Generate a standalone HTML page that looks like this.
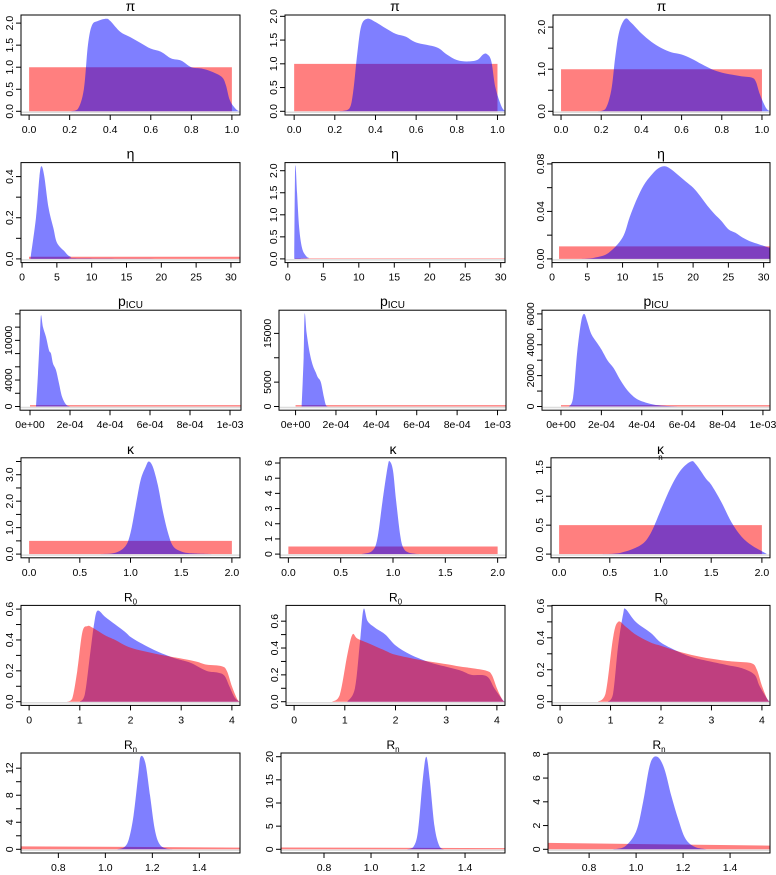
<!DOCTYPE html>
<html><head><meta charset="utf-8">
<style>
html,body{margin:0;padding:0;background:#fff;}
svg{display:block;font-family:"Liberation Sans",sans-serif;}
</style></head>
<body>
<svg id="chart" width="776" height="875" viewBox="0 0 776 875" xmlns="http://www.w3.org/2000/svg"></svg>
<script>
// ---- data: [x, density] pairs ----
const piBlue1=[[0.2,0],[0.24,0.05],[0.27,0.5],[0.29,1.5],[0.31,1.95],[0.34,2.05],[0.38,2.1],[0.40,2.05],[0.45,1.8],[0.5,1.68],[0.55,1.55],[0.6,1.42],[0.65,1.35],[0.7,1.2],[0.75,1.15],[0.8,1.0],[0.85,0.97],[0.9,0.9],[0.95,0.78],[0.97,0.6],[0.99,0.25],[1.02,0.05],[1.04,0]];
const piBlue2=[[0.22,0],[0.27,0.05],[0.29,0.4],[0.31,1.2],[0.33,1.8],[0.36,1.95],[0.4,1.88],[0.45,1.75],[0.5,1.63],[0.55,1.57],[0.6,1.45],[0.7,1.35],[0.75,1.2],[0.8,1.08],[0.85,1.05],[0.9,1.08],[0.93,1.2],[0.95,1.2],[0.97,1.05],[0.99,0.5],[1.02,0.1],[1.04,0]];
const piBlue3=[[0.18,0],[0.22,0.05],[0.25,0.5],[0.27,1.3],[0.29,1.9],[0.32,2.2],[0.35,2.1],[0.4,1.85],[0.45,1.65],[0.5,1.5],[0.55,1.4],[0.6,1.35],[0.65,1.25],[0.7,1.12],[0.75,1.0],[0.8,0.92],[0.85,0.87],[0.9,0.83],[0.95,0.8],[0.97,0.7],[0.99,0.4],[1.02,0.08],[1.04,0]];
const piRed=[[0,1],[1,1]];
const etaBlue1=[[1.2,0],[2,0.2],[2.5,0.4],[2.8,0.45],[3.2,0.4],[3.8,0.25],[4.5,0.15],[5,0.08],[6,0.04],[7,0.01],[9,0.002],[31,0]];
const etaBlue2=[[0.9,0],[1.0,1.8],[1.1,2.1],[1.3,1.5],[1.6,0.7],[2,0.25],[2.5,0.08],[3,0.02],[4,0],[31,0]];
const etaBlue3=[[4,0],[6,0.001],[8,0.005],[10,0.018],[11,0.035],[12,0.05],[13,0.062],[14,0.07],[15,0.076],[16,0.078],[17,0.075],[18,0.07],[19,0.065],[20,0.06],[21,0.053],[22,0.045],[23,0.038],[24,0.032],[25,0.025],[26,0.022],[27,0.018],[28,0.015],[29,0.013],[30,0.011],[31,0.009]];
const etaRed=[[1,0.0105],[31.5,0.0105]];
const picuBlue1=[[0.3,0],[0.4,5000],[0.5,11000],[0.55,13800],[0.65,12000],[0.8,10500],[0.95,8500],[1.05,8000],[1.15,6500],[1.3,5500],[1.45,3500],[1.6,1500],[1.8,300],[2.0,0]];
const picuBlue2=[[0.3,0],[0.4,10000],[0.45,19000],[0.55,15000],[0.7,11000],[0.85,8500],[1.0,7000],[1.1,6000],[1.25,5000],[1.4,2000],[1.5,300],[1.6,0]];
const picuBlue3=[[0.4,0],[0.6,600],[0.8,3500],[1.0,5500],[1.15,6000],[1.3,5500],[1.5,4700],[1.8,4100],[2.0,3700],[2.3,3000],[2.6,2500],[2.9,1800],[3.2,1200],[3.5,750],[3.8,450],[4.2,250],[4.6,120],[5.0,60],[5.5,20],[6,0]];
const picuRed1=[[0,200],[10.6,200]];
const picuRed2=[[0,280],[10.6,280]];
const picuRed3=[[0,90],[10.6,90]];
const kapBlue1=[[0.7,0],[0.85,0.05],[0.95,0.3],[1.0,0.8],[1.05,1.8],[1.1,2.8],[1.15,3.3],[1.18,3.5],[1.22,3.3],[1.27,2.6],[1.32,1.6],[1.37,0.8],[1.42,0.3],[1.5,0.1],[1.6,0.03],[1.8,0]];
const kapBlue2=[[0.7,0],[0.8,0.2],[0.85,1.0],[0.9,3.5],[0.95,5.8],[0.97,6.1],[1.0,5.5],[1.03,3.5],[1.07,1.2],[1.1,0.4],[1.15,0.1],[1.25,0]];
const kapBlue3=[[0.4,0],[0.6,0.02],[0.8,0.15],[0.9,0.35],[1.0,0.75],[1.1,1.15],[1.2,1.45],[1.3,1.6],[1.35,1.55],[1.45,1.3],[1.5,1.2],[1.6,0.9],[1.7,0.55],[1.8,0.3],[1.9,0.15],[2.0,0.05],[2.05,0]];
const kapRed=[[0,0.5],[2,0.5]];
const r0Blue1=[[1.0,0],[1.1,0.05],[1.2,0.3],[1.28,0.5],[1.35,0.59],[1.5,0.55],[1.7,0.5],[1.9,0.45],[2.0,0.42],[2.2,0.38],[2.5,0.33],[2.8,0.29],[3.0,0.27],[3.2,0.25],[3.5,0.2],[3.7,0.19],[3.85,0.17],[3.95,0.1],[4.05,0.03],[4.15,0]];
const r0Red1=[[0.75,0],[0.85,0.02],[0.95,0.2],[1.05,0.45],[1.15,0.49],[1.25,0.48],[1.5,0.43],[1.7,0.4],[2.0,0.35],[2.5,0.31],[3.0,0.28],[3.3,0.26],[3.5,0.24],[3.8,0.23],[3.9,0.2],[4.0,0.1],[4.1,0.02],[4.15,0]];
const r0Blue2=[[1.05,0],[1.2,0.1],[1.3,0.45],[1.37,0.69],[1.45,0.6],[1.6,0.55],[1.8,0.5],[2.0,0.42],[2.3,0.35],[2.7,0.29],[3.0,0.26],[3.3,0.23],[3.5,0.2],[3.8,0.19],[3.95,0.1],[4.1,0.02],[4.15,0]];
const r0Red2=[[0.75,0],[0.9,0.05],[1.05,0.35],[1.15,0.5],[1.25,0.47],[1.5,0.43],[1.8,0.38],[2.0,0.35],[2.5,0.31],[3.0,0.28],[3.3,0.26],[3.5,0.25],[3.8,0.23],[3.9,0.2],[4.0,0.1],[4.1,0.02],[4.15,0]];
const r0Blue3=[[0.95,0],[1.05,0.05],[1.15,0.35],[1.25,0.55],[1.3,0.58],[1.5,0.5],[1.8,0.43],[2.0,0.37],[2.3,0.32],[2.6,0.28],[3.0,0.25],[3.3,0.23],[3.6,0.21],[3.85,0.17],[3.95,0.1],[4.1,0.02],[4.15,0]];
const r0Red3=[[0.75,0],[0.9,0.05],[1.05,0.4],[1.15,0.5],[1.3,0.47],[1.5,0.42],[1.8,0.37],[2.0,0.35],[2.4,0.31],[2.8,0.28],[3.2,0.26],[3.5,0.25],[3.8,0.24],[3.9,0.2],[4.0,0.1],[4.1,0.02],[4.15,0]];
const rnBlue1=[[1.05,0],[1.08,0.3],[1.1,1.5],[1.12,5],[1.14,11],[1.15,13.7],[1.17,12.8],[1.19,8],[1.21,3],[1.23,0.8],[1.26,0.1],[1.3,0]];
const rnBlue2=[[1.15,0],[1.18,0.5],[1.2,4],[1.22,15],[1.235,20],[1.25,15],[1.27,5],[1.29,0.8],[1.31,0]];
const rnBlue3=[[0.9,0],[0.95,0.2],[1.0,1.5],[1.03,4],[1.06,7.2],[1.09,7.8],[1.12,6.8],[1.15,4.5],[1.18,2.5],[1.21,0.9],[1.25,0.2],[1.3,0]];
const rnRed1=[[0.6,0.45],[1.6,0.25]];
const rnRed2=[[0.6,0.4],[1.6,0.25]];
const rnRed3=[[0.6,0.55],[1.6,0.3]];
// axis ticks / labels
const piXTicks=[0,0.2,0.4,0.6,0.8,1.0];
const piXLabels=["0.0","0.2","0.4","0.6","0.8","1.0"];
const etaXTicks=[0,5,10,15,20,25,30];
const picuXTicks=[0,2,4,6,8,10];
const picuXLabels=["0e+00","2e-04","4e-04","6e-04","8e-04","1e-03"];
const kapXTicks=[0,0.5,1,1.5,2];
const kapXLabels=["0.0","0.5","1.0","1.5","2.0"];
const r0XTicks=[0,1,2,3,4];
const rnXTicks=[0.8,1.0,1.2,1.4];
const rnXLabels=["0.8","1.0","1.2","1.4"];

// ---- layout (pixels) ----
const panelL=[[21,285,553],[21,285,552],[20,279,542],[21,280,551],[21,286,552],[21,281,548]];
const panelR=[[240,505,770],[240,505,770],[241,506,770],[240,506,770],[240,505,770],[240,505,770]];
function rowTop(r){return 15+147.6*r;}
const H=100;
const NS="http://www.w3.org/2000/svg";
const svg=document.getElementById('chart');
function el(tag,attrs,parent){const e=document.createElementNS(NS,tag);for(const k in attrs)e.setAttribute(k,attrs[k]);(parent||svg).appendChild(e);return e;}

const BLUE="rgba(0,0,255,0.5)",RED="rgba(255,0,0,0.5)";
const panels=[
 {t:"π",xl:[[-0.04,1.04],[-0.045,1.037],[-0.04,1.04]],yMax:[2.1,1.95,2.2],series:[[["r",piRed],["b",piBlue1]],[["r",piRed],["b",piBlue2]],[["r",piRed],["b",piBlue3]]],xt:piXTicks,xlab:piXLabels,
  yt:[[0,0.5,1,1.5,2],[0,0.5,1,1.5,2],[0,0.5,1,1.5,2]],ylab:[["0.0","0.5","1.0","1.5","2.0"],["0.0","0.5","1.0","1.5","2.0"],["0.0","","1.0","","2.0"]]},
 {t:"η",xl:[[-0.15,31.3],[-0.4,30.6],[0,30.9]],yMax:[0.45,2.1,0.078],series:[[["r",etaRed],["b",etaBlue1]],[["r",etaRed],["b",etaBlue2]],[["r",etaRed],["b",etaBlue3]]],xt:etaXTicks,xlab:etaXTicks.map(String),
  yt:[[0,0.1,0.2,0.3,0.4],[0,0.5,1,1.5,2],[0,0.02,0.04,0.06,0.08]],ylab:[["0.0","","0.2","","0.4"],["0.0","0.5","1.0","1.5","2.0"],["0.00","","0.04","","0.08"]]},
 {t:"picu",xl:[[-0.5,10.55],[-0.82,10.42],[-0.94,10.35]],yMax:[14000,19000,6000],series:[[["r",picuRed1],["b",picuBlue1]],[["r",picuRed2],["b",picuBlue2]],[["r",picuRed3],["b",picuBlue3]]],xt:picuXTicks,xlab:picuXLabels,
  yt:[[0,2000,4000,6000,8000,10000,12000,14000],[0,5000,10000,15000],[0,1000,2000,3000,4000,5000,6000]],ylab:[["0","","4000","","","10000","",""],["0","5000","","15000"],["0","","2000","","4000","","6000"]]},
 {t:"κ",xl:[[-0.08,2.08],[-0.08,2.08],[-0.08,2.08]],yMax:[3.5,6.1,1.6],series:[[["r",kapRed],["b",kapBlue1]],[["r",kapRed],["b",kapBlue2]],[["r",kapRed],["b",kapBlue3]]],xt:kapXTicks,xlab:kapXLabels,
  yt:[[0,0.5,1,1.5,2,2.5,3,3.5],[0,1,2,3,4,5,6],[0,0.5,1,1.5]],ylab:[["0.0","","1.0","","2.0","","3.0",""],["0","1","2","3","4","5","6"],["0.0","0.5","1.0","1.5"]]},
 {t:"R0",xl:[[-0.16,4.16],[-0.16,4.16],[-0.16,4.16]],yMax:[0.6,0.69,0.58],series:[[["b",r0Blue1],["r",r0Red1]],[["b",r0Blue2],["r",r0Red2]],[["b",r0Blue3],["r",r0Red3]]],xt:r0XTicks,xlab:r0XTicks.map(String),
  yt:[[0,0.1,0.2,0.3,0.4,0.5,0.6],[0,0.1,0.2,0.3,0.4,0.5,0.6],[0,0.1,0.2,0.3,0.4,0.5,0.6]],ylab:[["0.0","","0.2","","0.4","","0.6"],["0.0","","0.2","","0.4","","0.6"],["0.0","","0.2","","0.4","","0.6"]]},
 {t:"Rn",xl:[[0.641,1.573],[0.617,1.57],[0.625,1.57]],yMax:[13.7,20,7.8],series:[[["r",rnRed1],["b",rnBlue1]],[["r",rnRed2],["b",rnBlue2]],[["r",rnRed3],["b",rnBlue3]]],xt:rnXTicks,xlab:rnXLabels,
  yt:[[0,2,4,6,8,10,12],[0,5,10,15,20],[0,2,4,6,8]],ylab:[["0","","4","","8","","12"],["0","5","10","15","20"],["0","2","4","6","8"]]}
];
const panelNames=["pi","eta","p-icu","kappa","r0","rn"];

// smooth path through points (Catmull-Rom to bezier), clamped to baseline
function smoothPath(P,base){
 let d='M'+P[0][0].toFixed(2)+','+base+'L'+P[0][0].toFixed(2)+','+P[0][1].toFixed(2);
 for(let i=0;i<P.length-1;i++){
  const p0=P[Math.max(0,i-1)],p1=P[i],p2=P[i+1],p3=P[Math.min(P.length-1,i+2)];
  const c1x=p1[0]+(p2[0]-p0[0])/6,c1y=Math.min(base,p1[1]+(p2[1]-p0[1])/6);
  const c2x=p2[0]-(p3[0]-p1[0])/6,c2y=Math.min(base,p2[1]-(p3[1]-p1[1])/6);
  d+='C'+c1x.toFixed(2)+','+c1y.toFixed(2)+' '+c2x.toFixed(2)+','+c2y.toFixed(2)+' '+p2[0].toFixed(2)+','+p2[1].toFixed(2);
 }
 d+='L'+P[P.length-1][0].toFixed(2)+','+base+'Z';
 return d;
}

panels.forEach((p,r)=>{
 for(let c=0;c<3;c++){
  const L=panelL[r][c],R=panelR[r][c],T=rowTop(r),B=T+H;
  const x0=p.xl[c][0],x1=p.xl[c][1],ym=p.yMax[c];
  const sx=v=>L+(v-x0)/(x1-x0)*(R-L);
  const sy=v=>(B-3.7)-v/ym*(H-7.4);
  const g=el('g',{});
  
  
  const cp='clip'+r+c;
  const cl=el('clipPath',{id:cp},g);el('rect',{x:L,y:T,width:R-L,height:H},cl);
  const dg=el('g',{'clip-path':'url(#'+cp+')'},g);
  p.series[c].forEach(([kind,pts])=>{
   let d;
   if(kind==='r'&&pts.length===2){
    d='M'+sx(pts[0][0])+','+sy(0)+'L'+sx(pts[0][0])+','+sy(pts[0][1])+'L'+sx(pts[1][0])+','+sy(pts[1][1])+'L'+sx(pts[1][0])+','+sy(0)+'Z';
   }else{
    d=smoothPath(pts.map(q=>[sx(q[0]),sy(q[1])]),sy(0));
   }
   const path=el('path',{d:d,fill:kind==='b'?BLUE:RED},dg);
   
   
  });
  el('line',{x1:L,x2:R,y1:sy(0)+1,y2:sy(0)+1,stroke:'#ddd','stroke-width':1.5},dg);
  const box=el('rect',{x:L,y:T,width:R-L,height:H,fill:'none',stroke:'#000','stroke-width':1},g);
  
  
  p.xt.forEach((v,i)=>{
   const X=sx(v);
   el('line',{x1:X,x2:X,y1:B,y2:B+5,stroke:'#000','stroke-width':1},g);
   const t=el('text',{x:X,y:B+18,'font-size':'10.5','text-anchor':'middle',fill:'#000'},g);
   t.textContent=p.xlab[i];
   
   
  });
  p.yt[c].forEach((v,i)=>{
   const Y=sy(v);
   el('line',{x1:L-5,x2:L,y1:Y,y2:Y,stroke:'#000','stroke-width':1},g);
   if(p.ylab[c][i]){
    const t=el('text',{x:L-8,y:Y,'font-size':'10.5','text-anchor':'middle',fill:'#000',transform:'rotate(-90 '+(L-8)+' '+Y+')'},g);
    t.textContent=p.ylab[c][i];
    
    
   }
  });
  const cx=(L+R)/2;
  const tt=el('text',{x:cx,y:T-4,'font-size':'14','text-anchor':'middle',fill:'#000','font-family':'"Liberation Sans",sans-serif'},g);
  
  
  if(p.t==='picu'){
   tt.textContent='p';
   const s=el('tspan',{'font-size':'10',dy:'2'},tt);s.textContent='ICU';
  }else if(p.t==='R0'||p.t==='Rn'){
   tt.setAttribute('font-size','12');
   tt.textContent='R';
   const s=el('tspan',{'font-size':'8',dy:'3'},tt);s.textContent=p.t==='R0'?'0':'n';
  }else{
   tt.textContent=p.t;
   if(p.t==='κ'&&c===2){
    const n=el('text',{x:cx,y:T+2,'font-size':'8','text-anchor':'middle',fill:'#000'},g);
    n.textContent='n';
    
    
   }
  }
 }
});
</script>
</body></html>
